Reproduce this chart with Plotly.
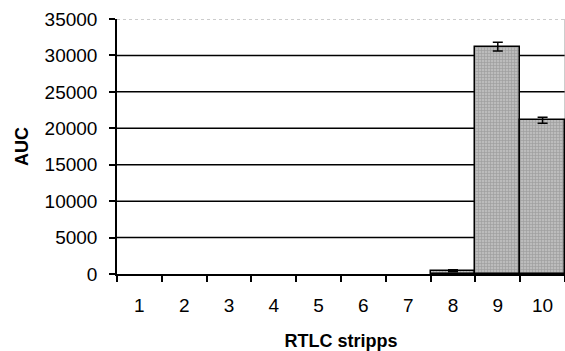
import plotly.graph_objects as go

# RTLC strip measurements
strips = ["1", "2", "3", "4", "5", "6", "7", "8", "9", "10"]
auc = [0, 0, 0, 0, 0, 0, 0, 450, 31200, 21100]
auc_err = [0, 0, 0, 0, 0, 0, 0, 150, 600, 400]
y_ticks = [0, 5000, 10000, 15000, 20000, 25000, 30000, 35000]

font_family = "Arial, Liberation Sans, sans-serif"

# empty strips get no outline and no error cap
outline_widths = [1.5 if v > 0 else 0 for v in auc]
measured = [i for i, v in enumerate(auc) if v > 0]

fig = go.Figure()
fig.add_trace(go.Bar(
    x=strips,
    y=auc,
    marker=dict(
        color="#b8b8b8",
        line=dict(color="black", width=outline_widths),
        pattern=dict(shape="+", fgcolor="#7a7a7a", bgcolor="#bcbcbc", size=3, solidity=0.35),
    ),
    showlegend=False,
    hoverinfo="skip",
))
# error bars for the strips with signal
fig.add_trace(go.Scatter(
    x=[strips[i] for i in measured],
    y=[auc[i] for i in measured],
    mode="markers",
    marker=dict(size=1, opacity=0),
    error_y=dict(type="data", array=[auc_err[i] for i in measured], visible=True,
                 color="black", thickness=1.5, width=5),
    showlegend=False,
))

# horizontal grid: solid black lines, dotted grey at the top
for v in y_ticks[1:-1]:
    fig.add_shape(type="line", xref="paper", yref="y", x0=0, x1=1, y0=v, y1=v,
                  line=dict(color="black", width=1.5), layer="below")
fig.add_shape(type="line", xref="paper", yref="y", x0=0, x1=1, y0=y_ticks[-1], y1=y_ticks[-1],
              line=dict(color="#9a9a9a", width=1.2, dash="dot"), layer="below")
# right border of the plot area
fig.add_shape(type="line", xref="paper", yref="paper", x0=1, x1=1, y0=0, y1=1,
              line=dict(color="#9a9a9a", width=1), layer="below")

fig.update_layout(
    width=565,
    height=351,
    margin=dict(l=117, r=0, t=19, b=77),
    paper_bgcolor="white",
    plot_bgcolor="white",
    bargap=0,
    font=dict(family=font_family, size=19, color="black"),
)

fig.update_xaxes(
    type="category",
    categoryarray=strips,
    range=[-0.5, len(strips) - 0.5],
    ticks="outside",
    tickson="boundaries",
    ticklen=6,
    tickwidth=1.5,
    tickcolor="black",
    showline=True,
    linecolor="black",
    linewidth=1.5,
    showgrid=False,
    ticklabelstandoff=13,
    tickfont=dict(size=19),
    title=dict(text="<b>RTLC stripps</b>", font=dict(size=18), standoff=20),
)

fig.update_yaxes(
    range=[0, 35000],
    tickvals=y_ticks,
    ticktext=[str(v) for v in y_ticks],
    ticks="outside",
    ticklen=6,
    tickwidth=1.5,
    tickcolor="black",
    showline=True,
    linecolor="black",
    linewidth=1.5,
    showgrid=False,
    zeroline=False,
    ticklabelstandoff=8,
    tickfont=dict(size=19),
    title=dict(text="<b>AUC</b>", font=dict(size=18), standoff=11),
)

fig.write_html("out.html")
